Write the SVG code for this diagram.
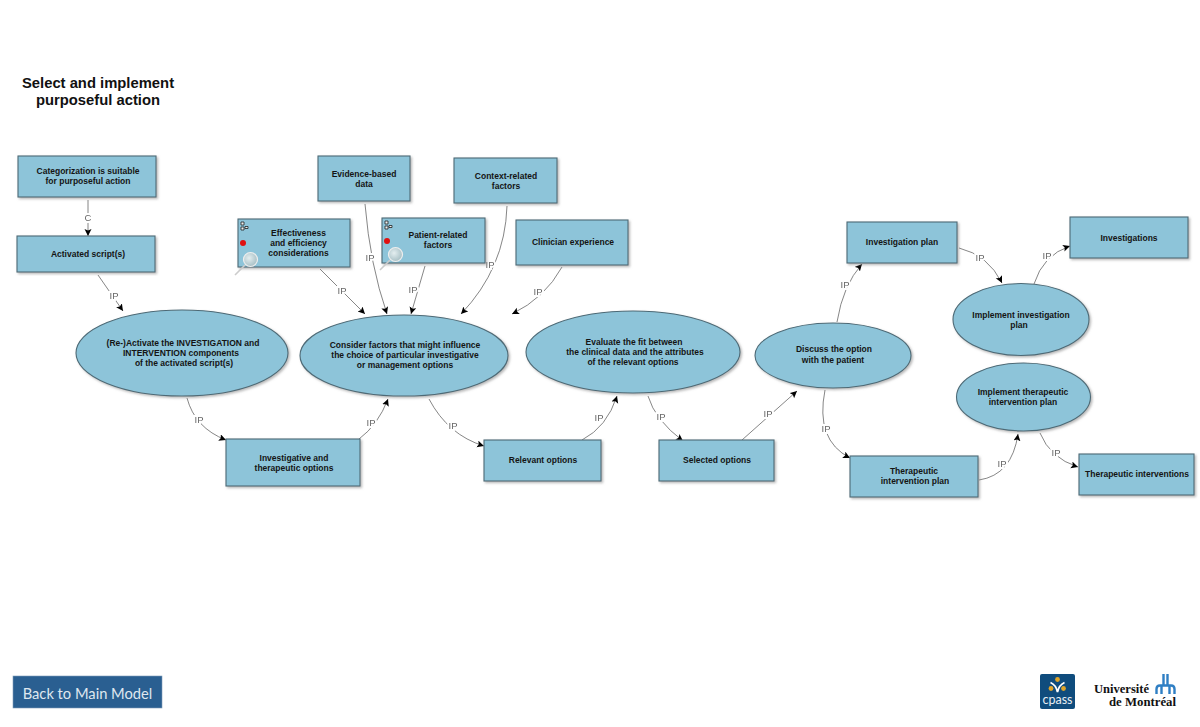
<svg xmlns="http://www.w3.org/2000/svg" width="1200" height="727" viewBox="0 0 1200 727">
<style>
text{font-family:"Liberation Sans",Arial,sans-serif}
.n{fill:#8dc4d9;stroke:#4d6a76;stroke-width:1.1;filter:url(#sh)}
.t{font-size:8.500px;font-weight:bold;fill:#141414;text-anchor:middle}
.c{fill:none;stroke:#666;stroke-width:.8;marker-end:url(#ah)}
.l{font-size:9.500px;fill:#666;text-anchor:middle;stroke:#fff;stroke-width:4;paint-order:stroke}
.h{font-size:14.800px;font-weight:bold;fill:#111;text-anchor:middle}
</style>
<defs>
<filter id="sh" x="-5%" y="-5%" width="112%" height="115%"><feDropShadow dx="1.5" dy="1.5" stdDeviation="1" flood-color="#888" flood-opacity=".6"/></filter>
<marker id="ah" markerUnits="userSpaceOnUse" markerWidth="8" markerHeight="8" refX="7" refY="3.500" orient="auto"><path d="M0 0L7 3.500L0 7L1.500 3.500Z" fill="#000"/></marker>
<radialGradient id="gl" cx=".4" cy=".4" r=".7"><stop offset="0" stop-color="#e4eef0"/><stop offset="1" stop-color="#9fb9bf"/></radialGradient>
<g id="tools">
<path d="M2 1h3v3h-3zM2 6h3v3h-3zM6 5.500h3v2h-3z" fill="#eee" stroke="#222" stroke-width=".8"/>
</g>
<g id="mag">
<path d="M0 0L-10 10" stroke="#ccc" stroke-width="1.600" fill="none"/>
<circle cx="5.500" cy="-5.500" r="7" fill="url(#gl)" stroke="#eee" stroke-width="1.200"/>
</g>
</defs>
<rect width="1200" height="727" fill="#fff"/>

<g id="title"><text class="h" x="98" y="88">Select and implement</text><text class="h" x="98" y="105">purposeful action</text></g>

<g id="connectors" opacity=".99">
<path class="c" d="M88 200V236"/><text class="l" x="88" y="221">C</text>
<path class="c" d="M98 275L123 311"/><text class="l" x="114" y="299">IP</text>
<path class="c" d="M320 269L365 314"/><text class="l" x="342" y="294">IP</text>
<path class="c" d="M365 204Q370 265 387 314"/><text class="l" x="370" y="261">IP</text>
<path class="c" d="M425 266L411 314"/><text class="l" x="413" y="293">IP</text>
<path class="c" d="M507 206Q505 268 461 314"/><text class="l" x="490" y="268">IP</text>
<path class="c" d="M562 267Q545 298 512 314"/><text class="l" x="538" y="295">IP</text>
<path class="c" d="M187 398Q195 428 226 440"/><text class="l" x="199" y="423">IP</text>
<path class="c" d="M359 439Q378 425 388 399"/><text class="l" x="371" y="426">IP</text>
<path class="c" d="M429 399Q448 435 484 446"/><text class="l" x="453" y="429">IP</text>
<path class="c" d="M582 440Q607 427 617 396"/><text class="l" x="599" y="421">IP</text>
<path class="c" d="M648 396Q655 420 683 441"/><text class="l" x="661" y="420">IP</text>
<path class="c" d="M742 440L797 391"/><text class="l" x="768" y="417">IP</text>
<path class="c" d="M837 322Q843 285 862 264"/><text class="l" x="845" y="288">IP</text>
<path class="c" d="M959 248Q988 255 1002 283"/><text class="l" x="980" y="261">IP</text>
<path class="c" d="M1034 284Q1043 255 1070 246"/><text class="l" x="1047" y="259">IP</text>
<path class="c" d="M825 390Q815 440 850 458"/><text class="l" x="826" y="432">IP</text>
<path class="c" d="M979 480Q1012 475 1018 434"/><text class="l" x="1002" y="467">IP</text>
<path class="c" d="M1040 433Q1050 458 1078 467"/><text class="l" x="1056" y="456">IP</text>
</g>

<g id="n-categorization"><rect class="n" x="18" y="156" width="138" height="41"/><text class="t" x="88" y="174">Categorization is suitable</text><text class="t" x="88" y="184">for purposeful action</text></g>
<g id="n-activated"><rect class="n" x="17" y="236" width="138" height="36"/><text class="t" x="88" y="257">Activated script(s)</text></g>
<g id="n-effectiveness"><rect class="n" x="238" y="219" width="112" height="48"/><use href="#tools" x="239" y="221"/><circle cx="243" cy="243" r="3" fill="#e01010"/><use href="#mag" x="245" y="265"/><text class="t" x="298.500" y="236">Effectiveness</text><text class="t" x="298.500" y="246">and efficiency</text><text class="t" x="298.500" y="256">considerations</text></g>
<g id="n-evidence"><rect class="n" x="318" y="156" width="92" height="45"/><text class="t" x="364" y="177">Evidence-based</text><text class="t" x="364" y="187">data</text></g>
<g id="n-context"><rect class="n" x="454" y="158" width="103" height="45"/><text class="t" x="506" y="179">Context-related</text><text class="t" x="506" y="189">factors</text></g>
<g id="n-patient"><rect class="n" x="382" y="218" width="103" height="45"/><use href="#tools" x="383" y="220"/><circle cx="387" cy="241" r="3" fill="#e01010"/><use href="#mag" x="390" y="260"/><text class="t" x="438" y="238">Patient-related</text><text class="t" x="438" y="248">factors</text></g>
<g id="n-clinician"><rect class="n" x="516" y="220" width="112" height="45"/><text class="t" x="573" y="245">Clinician experience</text></g>

<g id="n-reactivate"><ellipse class="n" cx="182" cy="353" rx="106" ry="43"/><text class="t" x="183" y="346">(Re-)Activate the INVESTIGATION and</text><text class="t" x="181" y="356">INTERVENTION components</text><text class="t" x="184" y="366">of the activated script(s)</text></g>
<g id="n-consider"><ellipse class="n" cx="404" cy="355.500" rx="104" ry="40.500"/><text class="t" x="405" y="348">Consider factors that might influence</text><text class="t" x="405" y="358">the choice of particular investigative</text><text class="t" x="405" y="368">or management options</text></g>
<g id="n-evaluate"><ellipse class="n" cx="633" cy="352" rx="107" ry="41"/><text class="t" x="634" y="345">Evaluate the fit between</text><text class="t" x="635" y="355">the clinical data and the attributes</text><text class="t" x="633" y="365">of the relevant options</text></g>
<g id="n-discuss"><ellipse class="n" cx="833" cy="355.500" rx="78" ry="32.500"/><text class="t" x="834" y="352">Discuss the option</text><text class="t" x="833" y="363">with the patient</text></g>
<g id="n-implinv"><ellipse class="n" cx="1021" cy="319.500" rx="68" ry="36"/><text class="t" x="1021" y="318">Implement investigation</text><text class="t" x="1019" y="328">plan</text></g>
<g id="n-implther"><ellipse class="n" cx="1023.500" cy="397" rx="67" ry="34"/><text class="t" x="1023" y="395">Implement therapeutic</text><text class="t" x="1023" y="405">intervention plan</text></g>

<g id="n-investigative"><rect class="n" x="226" y="439" width="134" height="47"/><text class="t" x="294" y="461">Investigative and</text><text class="t" x="294" y="471">therapeutic options</text></g>
<g id="n-relevant"><rect class="n" x="484" y="440" width="117" height="41"/><text class="t" x="543" y="463">Relevant options</text></g>
<g id="n-selected"><rect class="n" x="659" y="440" width="115" height="41"/><text class="t" x="717" y="463">Selected options</text></g>
<g id="n-invplan"><rect class="n" x="847" y="222" width="110" height="41"/><text class="t" x="902" y="245">Investigation plan</text></g>
<g id="n-investigations"><rect class="n" x="1070" y="217" width="118" height="41"/><text class="t" x="1129" y="241">Investigations</text></g>
<g id="n-therplan"><rect class="n" x="850" y="456" width="128" height="41"/><text class="t" x="914" y="474">Therapeutic</text><text class="t" x="915" y="484">intervention plan</text></g>
<g id="n-therint"><rect class="n" x="1079" y="454" width="115" height="41"/><text class="t" x="1137" y="477">Therapeutic interventions</text></g>

<g id="back-button"><rect x="13" y="676" width="149" height="32" fill="#2a5f91" stroke="#7f9cb8" stroke-width=".6"/><text x="87.500" y="699" font-size="14.700" text-anchor="middle" fill="#dfe7ef" style="font-family:Lato,'Open Sans',sans-serif">Back to Main Model</text></g>

<g id="logo-cpass"><rect x="1040" y="674" width="35" height="35" rx="2" fill="#0f4c7d"/><circle cx="1057.500" cy="679.500" r="2.400" fill="#e0a52a"/><circle cx="1051" cy="688.500" r="2.400" fill="#e0a52a"/><circle cx="1063.500" cy="688.500" r="2.400" fill="#e0a52a"/><path d="M1050.500 682.500Q1056 685 1057.500 692M1064.500 682.500Q1059 685 1057.500 692" stroke="#fff" stroke-width="1.800" fill="none"/><text x="1057.500" y="704" font-size="12.500" text-anchor="middle" fill="#e8eef4" style="font-family:Lato,sans-serif">cpass</text></g>
<g id="logo-udem"><text x="1094" y="693" font-size="12" font-weight="bold" fill="#111" style="font-family:'Liberation Serif',serif" textLength="55" lengthAdjust="spacingAndGlyphs">Université</text><text x="1109" y="706" font-size="12" font-weight="bold" fill="#111" style="font-family:'Liberation Serif',serif" textLength="67" lengthAdjust="spacingAndGlyphs">de Montréal</text><path d="M1156.500 694V689Q1156.500 685.500 1160 685.500H1171Q1174.500 685.500 1174.500 689V694M1161.500 694V686M1169.500 694V686M1163.500 685V674M1167.500 685V674" fill="none" stroke="#2f7fc4" stroke-width="2.400"/></g>
</svg>
